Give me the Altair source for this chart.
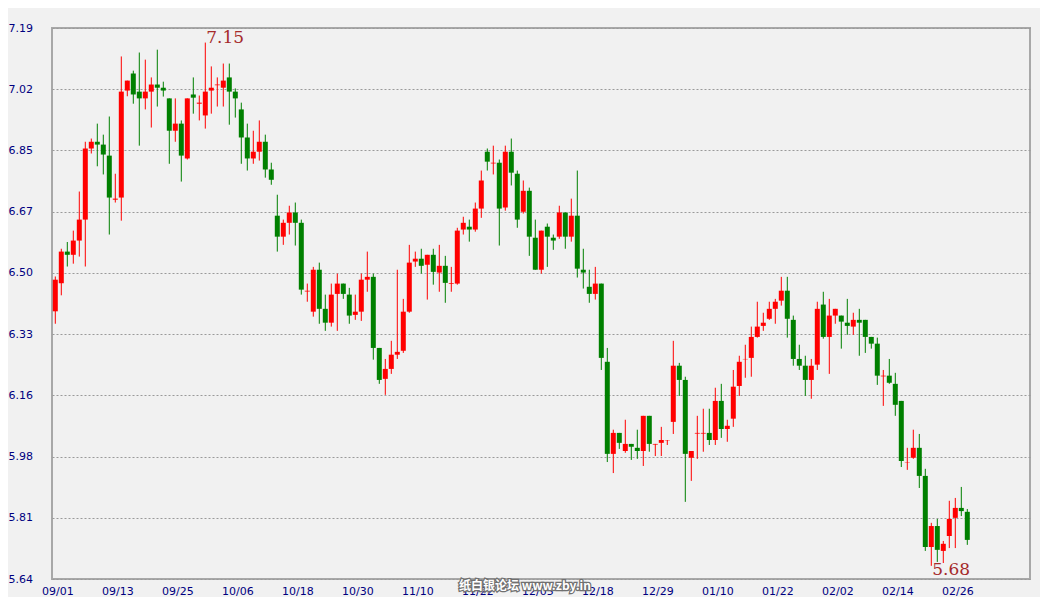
import altair as alt
import pandas as pd

# x-axis tick labels (every 10th candle)
tick_labels = ["09/01", "09/13", "09/25", "10/06", "10/18", "10/30", "11/10", "11/22",
               "12/05", "12/18", "12/29", "01/10", "01/22", "02/02", "02/14", "02/26"]
tick_index = [0, 10, 20, 30, 40, 50, 60, 70, 80, 90, 100, 110, 120, 130, 140, 150]

# y-axis tick values
y_ticks = [5.64, 5.8122, 5.9844, 6.1567, 6.3289, 6.5011, 6.6733, 6.8456, 7.0178, 7.19]

opens = [6.393, 6.472, 6.561, 6.552, 6.592, 6.651, 6.851, 6.870, 6.862, 6.831,
         6.707, 6.713, 7.014, 7.062, 7.011, 6.992, 7.011, 7.031, 7.022, 6.992,
         6.901, 6.921, 6.823, 7.003, 6.977, 6.944, 7.014, 7.029, 7.022, 7.051,
         7.011, 6.961, 6.882, 6.823, 6.842, 6.870, 6.792, 6.662, 6.603, 6.642,
         6.671, 6.642, 6.449, 6.392, 6.510, 6.400, 6.361, 6.442, 6.471, 6.440,
         6.383, 6.392, 6.482, 6.490, 6.290, 6.203, 6.231, 6.271, 6.282, 6.392,
         6.533, 6.541, 6.524, 6.552, 6.502, 6.521, 6.470, 6.471, 6.623, 6.631,
         6.623, 6.682, 6.842, 6.809, 6.811, 6.685, 6.842, 6.780, 6.673, 6.732,
         6.600, 6.510, 6.631, 6.600, 6.603, 6.671, 6.603, 6.662, 6.510, 6.462,
         6.442, 6.471, 6.251, 5.992, 6.051, 6.000, 6.020, 6.009, 6.000, 6.099,
         6.018, 6.023, 6.030, 6.082, 6.240, 6.200, 5.981, 6.049, 6.049, 6.051,
         6.031, 6.141, 6.062, 6.091, 6.183, 6.258, 6.262, 6.321, 6.352, 6.372,
         6.400, 6.423, 6.451, 6.369, 6.259, 6.240, 6.200, 6.243, 6.412, 6.321,
         6.381, 6.381, 6.361, 6.350, 6.369, 6.369, 6.321, 6.302, 6.210, 6.212,
         6.189, 6.141, 5.968, 5.981, 6.009, 5.930, 5.730, 5.789, 5.719, 5.761,
         5.812, 5.840, 5.829]

highs = [6.491, 6.569, 6.588, 6.620, 6.730, 6.870, 6.879, 6.921, 6.890, 6.941,
         6.780, 7.110, 7.042, 7.070, 7.121, 7.101, 7.051, 7.129, 7.039, 6.992,
         6.992, 6.930, 6.992, 7.051, 7.000, 7.149, 7.082, 7.051, 7.090, 7.090,
         7.020, 6.980, 6.921, 6.901, 6.930, 6.890, 6.811, 6.721, 6.651, 6.690,
         6.699, 6.651, 6.471, 6.518, 6.530, 6.440, 6.471, 6.499, 6.471, 6.459,
         6.440, 6.499, 6.561, 6.499, 6.290, 6.259, 6.310, 6.510, 6.428, 6.580,
         6.561, 6.569, 6.552, 6.569, 6.580, 6.549, 6.518, 6.628, 6.659, 6.651,
         6.699, 6.789, 6.851, 6.859, 6.820, 6.859, 6.879, 6.789, 6.761, 6.741,
         6.651, 6.620, 6.640, 6.609, 6.690, 6.671, 6.710, 6.789, 6.569, 6.510,
         6.518, 6.471, 6.290, 6.060, 6.051, 6.088, 6.020, 6.060, 6.099, 6.099,
         6.020, 6.068, 6.031, 6.310, 6.248, 6.209, 6.000, 6.099, 6.119, 6.119,
         6.178, 6.189, 6.088, 6.228, 6.268, 6.299, 6.350, 6.420, 6.389, 6.420,
         6.428, 6.490, 6.490, 6.381, 6.299, 6.268, 6.259, 6.420, 6.448, 6.428,
         6.400, 6.381, 6.428, 6.389, 6.400, 6.369, 6.321, 6.319, 6.228, 6.259,
         6.220, 6.141, 6.009, 6.060, 6.048, 5.950, 5.798, 5.809, 5.747, 5.860,
         5.868, 5.899, 5.837]

lows = [6.358, 6.438, 6.519, 6.527, 6.547, 6.519, 6.837, 6.801, 6.778, 6.609,
        6.699, 6.648, 6.998, 6.977, 6.859, 6.961, 6.910, 6.969, 6.997, 6.808,
        6.870, 6.758, 6.820, 6.949, 6.930, 6.907, 6.949, 6.969, 6.969, 6.918,
        6.938, 6.808, 6.789, 6.808, 6.817, 6.769, 6.749, 6.561, 6.580, 6.609,
        6.578, 6.440, 6.420, 6.378, 6.358, 6.338, 6.350, 6.338, 6.428, 6.358,
        6.369, 6.366, 6.448, 6.257, 6.189, 6.158, 6.217, 6.259, 6.276, 6.389,
        6.518, 6.499, 6.426, 6.468, 6.448, 6.417, 6.448, 6.468, 6.609, 6.589,
        6.617, 6.656, 6.789, 6.778, 6.578, 6.676, 6.747, 6.628, 6.668, 6.549,
        6.510, 6.499, 6.518, 6.566, 6.597, 6.569, 6.589, 6.488, 6.457, 6.417,
        6.426, 6.228, 5.969, 5.938, 6.006, 5.995, 5.975, 5.978, 5.958, 5.998,
        5.986, 5.986, 6.017, 6.048, 6.155, 5.857, 5.916, 5.978, 5.998, 6.017,
        6.017, 6.037, 6.026, 6.068, 6.155, 6.206, 6.209, 6.319, 6.338, 6.369,
        6.358, 6.409, 6.319, 6.240, 6.228, 6.155, 6.147, 6.228, 6.316, 6.217,
        6.358, 6.288, 6.327, 6.327, 6.268, 6.276, 6.288, 6.186, 6.127, 6.189,
        6.099, 5.955, 5.947, 5.978, 5.896, 5.719, 5.677, 5.688, 5.685, 5.727,
        5.727, 5.817, 5.736]

closes = [6.482, 6.561, 6.552, 6.592, 6.651, 6.851, 6.870, 6.862, 6.834, 6.713,
          6.710, 7.011, 7.042, 7.003, 6.992, 7.011, 7.031, 7.022, 7.014, 6.901,
          6.921, 6.831, 6.992, 6.994, 6.980, 7.011, 7.022, 7.031, 7.042, 7.011,
          6.992, 6.882, 6.823, 6.842, 6.870, 6.792, 6.763, 6.603, 6.642, 6.671,
          6.642, 6.454, 6.451, 6.510, 6.400, 6.361, 6.440, 6.471, 6.442, 6.381,
          6.392, 6.482, 6.490, 6.290, 6.200, 6.231, 6.271, 6.279, 6.392, 6.530,
          6.541, 6.521, 6.552, 6.504, 6.521, 6.473, 6.472, 6.620, 6.642, 6.623,
          6.682, 6.761, 6.814, 6.811, 6.682, 6.842, 6.783, 6.651, 6.732, 6.603,
          6.510, 6.620, 6.603, 6.592, 6.671, 6.603, 6.662, 6.513, 6.502, 6.442,
          6.471, 6.262, 5.992, 6.051, 6.023, 6.020, 6.012, 6.000, 6.099, 6.020,
          6.020, 6.031, 6.031, 6.240, 6.200, 5.992, 6.000, 6.051, 6.051, 6.031,
          6.141, 6.062, 6.071, 6.181, 6.251, 6.259, 6.321, 6.350, 6.361, 6.400,
          6.420, 6.451, 6.372, 6.259, 6.240, 6.200, 6.240, 6.400, 6.321, 6.381,
          6.400, 6.364, 6.352, 6.369, 6.361, 6.321, 6.302, 6.212, 6.212, 6.192,
          6.130, 5.972, 5.969, 6.009, 5.930, 5.730, 5.789, 5.722, 5.739, 5.809,
          5.840, 5.831, 5.750]

watermark = "纸白银论坛 www.zby.in"

df = pd.DataFrame({
    "i": list(range(len(opens))),
    "open": opens, "high": highs, "low": lows, "close": closes,
})

imax = max(range(len(highs)), key=lambda k: highs[k])
imin = min(range(len(lows)), key=lambda k: lows[k])
hi_df = pd.DataFrame({"i": [imax], "y": [highs[imax]], "t": [f"{highs[imax]:.2f}"]})
lo_df = pd.DataFrame({"i": [imin], "y": [lows[imin]], "t": [f"{lows[imin]:.2f}"]})

label_arr = "[" + ",".join(f"'{s}'" for s in tick_labels) + "]"

xscale = alt.Scale(domain=[-0.55, 162.45], nice=False, zero=False, padding=0)
yscale = alt.Scale(domain=[5.64, 7.19], nice=False, zero=False, padding=0)

axis_font = "DejaVu Sans"
label_color = "#000080"

x_enc = alt.X("i:Q", scale=xscale, title=None,
              axis=alt.Axis(values=tick_index, labelExpr=f"{label_arr}[datum.value/10]",
                            grid=False, ticks=False, tickSize=0, domain=False,
                            labelPadding=6, labelOffset=2, labelFont=axis_font,
                            labelFontSize=11, labelColor=label_color,
                            labelOverlap=False, labelFlush=False, labelBound=False))

y_axis = alt.Axis(values=y_ticks, labelExpr="format(datum.value, '.2f')",
                  labelAlign="left", labelBaseline="middle", labelPadding=44,
                  ticks=False, tickSize=0, domain=False, grid=True,
                  gridColor="#9a9a9a", gridDash=[2, 2], gridWidth=1,
                  labelFont=axis_font, labelFontSize=11, labelColor=label_color,
                  labelOverlap=False, labelFlush=False, labelBound=False)

color_enc = alt.Color("dir:N", scale=alt.Scale(domain=["up", "down"], range=["#ff0000", "#008000"]),
                      legend=None)

base = alt.Chart(df).transform_calculate(
    dir="datum.close >= datum.open ? 'up' : 'down'"
).encode(x=x_enc, color=color_enc)

wicks = base.mark_rule(strokeWidth=1).encode(
    y=alt.Y("low:Q", scale=yscale, axis=y_axis, title=None),
    y2="high:Q",
)
bodies = base.mark_bar(size=5).encode(
    y=alt.Y("open:Q", scale=yscale, title=None),
    y2="close:Q",
)

hi_text = alt.Chart(hi_df).mark_text(
    align="left", baseline="alphabetic", dx=1, font="DejaVu Serif", fontSize=17, color="#a52a2a"
).encode(x=alt.X("i:Q", scale=xscale), y=alt.Y("y:Q", scale=yscale), text="t:N")

lo_text = alt.Chart(lo_df).mark_text(
    align="left", baseline="alphabetic", dx=1, dy=9, font="DejaVu Serif", fontSize=17, color="#a52a2a"
).encode(x=alt.X("i:Q", scale=xscale), y=alt.Y("y:Q", scale=yscale), text="t:N")

wm_df = pd.DataFrame({"t": [watermark]})
wm_outline = alt.Chart(wm_df).mark_text(
    align="center", baseline="middle", font="Noto Sans CJK SC", fontSize=12, fontWeight="bold",
    fill="#707070", stroke="#707070", strokeWidth=2.5
).encode(x=alt.value(473), y=alt.value(558), text="t:N")
wm_fill = alt.Chart(wm_df).mark_text(
    align="center", baseline="middle", font="Noto Sans CJK SC", fontSize=12, fontWeight="bold",
    fill="#ffffff"
).encode(x=alt.value(473), y=alt.value(558), text="t:N")

chart = alt.layer(wicks, bodies, hi_text, lo_text, wm_outline, wm_fill).properties(
    width=978, height=551,
    autosize=alt.AutoSizeParams(type="none"),
    padding={"left": 44, "top": 20, "right": 10, "bottom": 18},
    background="#f1f1f1",
).configure_view(
    stroke="#a8a8a8", strokeWidth=2
)

chart.save("out.html", embed_options={"renderer": "svg", "actions": False})
